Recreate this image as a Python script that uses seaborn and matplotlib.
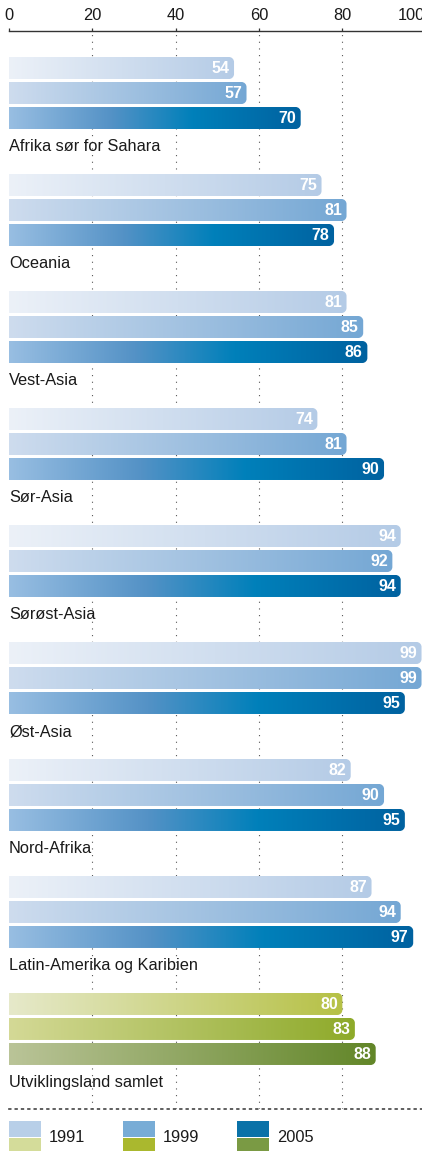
"""Grouped horizontal bar chart with gradient bars, by region and year."""
import numpy as np
import pandas as pd
import matplotlib
matplotlib.use("Agg")
import matplotlib.pyplot as plt
from matplotlib.path import Path
from matplotlib.patches import PathPatch, Rectangle
import seaborn as sns

regions = [
    "Afrika sør for Sahara",
    "Oceania",
    "Vest-Asia",
    "Sør-Asia",
    "Sørøst-Asia",
    "Øst-Asia",
    "Nord-Afrika",
    "Latin-Amerika og Karibien",
    "Utviklingsland samlet",
]
years = ["1991", "1999", "2005"]
values_1991 = [54, 75, 81, 74, 94, 99, 82, 87, 80]
values_1999 = [57, 81, 85, 81, 92, 99, 90, 94, 83]
values_2005 = [70, 78, 86, 90, 94, 95, 95, 97, 88]
x_ticks = [0, 20, 40, 60, 80, 100]

# gradient stops per year (blue for the regions, green for the total)
BLUE_STOPS = {
    "1991": [(0.0, (236, 241, 248)), (1.0, (180, 203, 230))],
    "1999": [(0.0, (206, 220, 238)), (1.0, (116, 167, 212))],
    "2005": [(0.0, (152, 190, 226)), (0.35, (84, 146, 198)),
             (0.63, (0, 128, 186)), (1.0, (0, 98, 160))],
}
GREEN_STOPS = {
    "1991": [(0.0, (230, 233, 202)), (1.0, (182, 193, 70))],
    "1999": [(0.0, (212, 217, 150)), (1.0, (142, 170, 42))],
    "2005": [(0.0, (186, 196, 152)), (1.0, (98, 134, 40))],
}
LEGEND_BLUE = ["#b8cfe8", "#78acd6", "#0a72a8"]
LEGEND_GREEN = ["#d4dc9a", "#aab82e", "#7a9a44"]

W, H = 422, 1151
FS = 11.8


def gradient(stops, n=256):
    pos = np.array([s[0] for s in stops])
    cols = np.array([s[1] for s in stops], dtype=float) / 255
    t = np.linspace(0, 1, n)
    rgb = np.stack([np.interp(t, pos, cols[:, k]) for k in range(3)], axis=-1)
    return rgb[np.newaxis, :, :]


def rounded_right(x0, x1, y0, y1, rx, ry):
    """Rectangle with rounded corners on the right end (data coords)."""
    k = 0.5523
    verts = [
        (x0, y0), (x1 - rx, y0),
        (x1 - rx + k * rx, y0), (x1, y0 + ry - k * ry), (x1, y0 + ry),
        (x1, y1 - ry),
        (x1, y1 - ry + k * ry), (x1 - rx + k * rx, y1), (x1 - rx, y1),
        (x0, y1), (x0, y0),
    ]
    codes = [Path.MOVETO, Path.LINETO,
             Path.CURVE4, Path.CURVE4, Path.CURVE4,
             Path.LINETO,
             Path.CURVE4, Path.CURVE4, Path.CURVE4,
             Path.LINETO, Path.CLOSEPOLY]
    return Path(verts, codes)


df = pd.DataFrame({
    "region": regions * 3,
    "year": sum([[y] * len(regions) for y in years], []),
    "value": values_1991 + values_1999 + values_2005,
})

sns.set_theme(style="white")
plt.rcParams["font.family"] = ["Liberation Sans", "DejaVu Sans"]

fig = plt.figure(figsize=(W / 100, H / 100), dpi=100)
ax = fig.add_axes([9 / W, 42 / H, 416.7 / W, 1078 / H])

sns.barplot(data=df, y="region", x="value", hue="year", orient="h",
            palette=LEGEND_BLUE, width=0.641, gap=0.12, legend=False, ax=ax)

ylim = (8.684, -0.53)
xlim = (0, 100)
px_x = 416.7 / 100
px_y = 1078 / (ylim[0] - ylim[1])

for yi, container in enumerate(ax.containers):
    year = years[yi]
    for ri, bar in enumerate(container):
        x0, y0 = bar.get_x(), bar.get_y()
        w, h = bar.get_width(), bar.get_height()
        bar.set_visible(False)
        stops = GREEN_STOPS[year] if ri == len(regions) - 1 else BLUE_STOPS[year]
        clip = PathPatch(rounded_right(x0, x0 + w, y0, y0 + h, 5 / px_x, 5 / px_y),
                         facecolor="none", edgecolor="none", transform=ax.transData)
        ax.add_patch(clip)
        im = ax.imshow(gradient(stops), extent=[x0, x0 + w, y0 + h, y0],
                       aspect="auto", interpolation="bilinear", zorder=3)
        im.set_clip_path(clip)
        ax.text(x0 + w - 4.5 / px_x, y0 + h / 2 + 0.005, f"{w:g}", color="white",
                ha="right", va="center", fontsize=11.5, fontweight="bold", zorder=4)

for ri, name in enumerate(regions):
    ax.text(0, ri + 0.46, name, ha="left", va="center", fontsize=FS,
            color="#1a1a1a", zorder=4)

ax.set_xlim(*xlim)
ax.set_ylim(*ylim)
ax.set_xlabel("")
ax.set_ylabel("")
ax.set_yticks([])
ax.set_xticks(x_ticks)
# the last label sits a little left of its tick so it is not lost at the edge
ax.set_xticklabels([str(t) for t in x_ticks[:-1]] + [""])
ax.xaxis.tick_top()
ax.tick_params(axis="x", direction="out", length=2.5, width=0.9, color="#333333",
               labelsize=FS, labelcolor="#1a1a1a", pad=3)
ax.annotate(str(x_ticks[-1]), xy=(x_ticks[-1], 1), xycoords=("data", "axes fraction"),
            xytext=(-10, 5.5), textcoords="offset points", ha="center",
            va="bottom", fontsize=FS, color="#1a1a1a", annotation_clip=False)

ax.xaxis.grid(True, linestyle=(0, (1, 5)), linewidth=0.8, color="#555555", zorder=0)
ax.set_axisbelow(True)
ax.xaxis.get_gridlines()[0].set_visible(False)

for side in ["left", "right"]:
    ax.spines[side].set_visible(False)
ax.spines["top"].set_color("#333333")
ax.spines["top"].set_linewidth(1.0)
ax.spines["bottom"].set_color("#444444")
ax.spines["bottom"].set_linewidth(1.2)
ax.spines["bottom"].set_linestyle((0, (1, 2.8)))


def px_rect(x, y, w, h, color):
    fig.add_artist(Rectangle((x / W, 1 - (y + h) / H), w / W, h / H,
                             transform=fig.transFigure, facecolor=color,
                             edgecolor="none"))


for i, year in enumerate(years):
    sx = [9, 123, 237][i]
    px_rect(sx, 1121, 32, 15.5, LEGEND_BLUE[i])
    px_rect(sx, 1138, 32, 14, LEGEND_GREEN[i])
    fig.text((sx + 40) / W, 1 - 1138 / H, year, ha="left", va="center",
             fontsize=FS, color="#1a1a1a")

fig.savefig("out.png", dpi=100)
